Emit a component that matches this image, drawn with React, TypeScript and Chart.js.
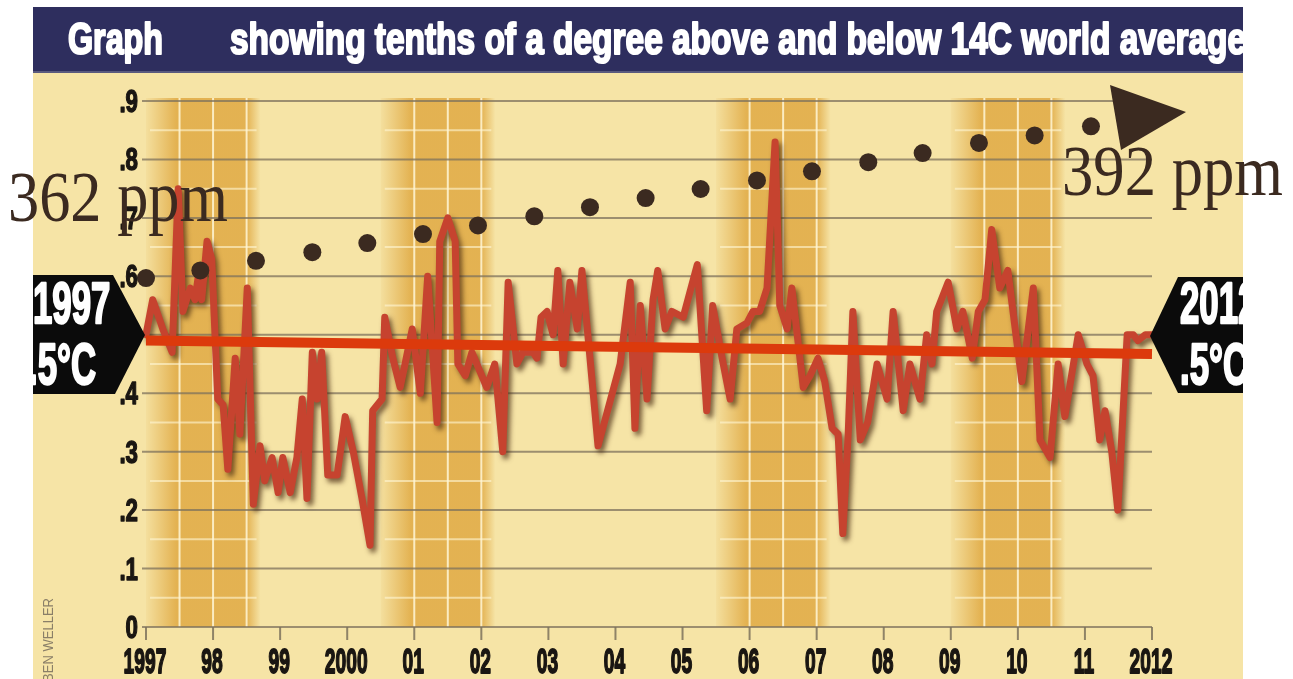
import React, { useEffect, useRef } from 'react';
import { Chart, registerables } from 'chart.js';

Chart.register(...registerables);

const W = 1293;
const H = 679;

// Monthly-ish temperature anomaly trace (tenths of a degree above 14C)
const tempYears = [
  1997.0, 1997.1, 1997.25, 1997.39, 1997.48, 1997.55, 1997.66, 1997.73, 1997.78, 1997.83, 1997.91, 1997.98,
  1998.07, 1998.15, 1998.22, 1998.33, 1998.4, 1998.51, 1998.6, 1998.7, 1998.77, 1998.88, 1998.97,
  1999.04, 1999.15, 1999.25, 1999.33, 1999.4, 1999.48, 1999.55, 1999.62, 1999.71, 1999.85, 1999.97,
  2000.09, 2000.22, 2000.34, 2000.38, 2000.52, 2000.56, 2000.68, 2000.79, 2000.97,
  2001.09, 2001.2, 2001.34, 2001.38, 2001.5, 2001.61, 2001.65, 2001.76, 2001.86,
  2002.08, 2002.2, 2002.32, 2002.4, 2002.53, 2002.62, 2002.77, 2002.83, 2002.89, 2002.98,
  2003.07, 2003.14, 2003.22, 2003.32, 2003.43, 2003.5, 2003.58, 2003.74,
  2004.07, 2004.22, 2004.29, 2004.37, 2004.47, 2004.56, 2004.63, 2004.74, 2004.84,
  2005.01, 2005.22, 2005.36, 2005.45, 2005.59, 2005.71, 2005.81, 2005.96,
  2006.05, 2006.15, 2006.26, 2006.38, 2006.45, 2006.56, 2006.63, 2006.72, 2006.8, 2006.9,
  2007.02, 2007.12, 2007.23, 2007.32, 2007.39, 2007.47, 2007.54, 2007.65, 2007.76, 2007.9,
  2008.05, 2008.14, 2008.29, 2008.39, 2008.54, 2008.64, 2008.72, 2008.79, 2008.96,
  2009.09, 2009.18, 2009.32, 2009.41, 2009.51, 2009.61, 2009.73, 2009.85,
  2010.06, 2010.23, 2010.33, 2010.48, 2010.6, 2010.7, 2010.9,
  2011.03, 2011.12, 2011.22, 2011.3, 2011.4, 2011.49, 2011.63, 2011.72, 2011.79, 2011.9, 2012.0,
];
const tempValues = [
  0.5, 0.56, 0.51, 0.47, 0.75, 0.54, 0.58, 0.56, 0.6, 0.56, 0.66, 0.63,
  0.39, 0.38, 0.27, 0.46, 0.33, 0.58, 0.21, 0.31, 0.25, 0.29, 0.23,
  0.29, 0.23, 0.29, 0.39, 0.22, 0.47, 0.39, 0.47, 0.26, 0.26, 0.36,
  0.3, 0.22, 0.14, 0.37, 0.39, 0.53, 0.46, 0.41, 0.51,
  0.4, 0.6, 0.35, 0.66, 0.7, 0.66, 0.45, 0.43, 0.47,
  0.41, 0.45, 0.3, 0.59, 0.45, 0.47, 0.47, 0.46, 0.53, 0.54,
  0.5, 0.61, 0.45, 0.59, 0.51, 0.61, 0.51, 0.31,
  0.45, 0.59, 0.34, 0.55, 0.39, 0.56, 0.61, 0.51, 0.54,
  0.53, 0.62, 0.37, 0.55, 0.46, 0.39, 0.51, 0.52,
  0.54, 0.54, 0.58, 0.83, 0.55, 0.51, 0.58, 0.49, 0.41, 0.43,
  0.46, 0.42, 0.34, 0.33, 0.16, 0.33, 0.54, 0.32, 0.35, 0.45,
  0.39, 0.54, 0.37, 0.45, 0.39, 0.5, 0.45, 0.54, 0.59,
  0.51, 0.54, 0.46, 0.54, 0.56, 0.68, 0.58, 0.61,
  0.42, 0.58, 0.32, 0.29, 0.45, 0.36, 0.5,
  0.45, 0.43, 0.32, 0.37, 0.3, 0.2, 0.5, 0.5, 0.49, 0.5, 0.5,
];

// Flat trend line (.5C in 1997 -> .5C in 2012)
const trendYears = [1997, 2012];
const trendValues = [0.49, 0.467];

// CO2 concentration dots (ppm)
const co2Years = [
  1997.0, 1997.81, 1998.64, 1999.48, 2000.3, 2001.13, 2001.95, 2002.79, 2003.62,
  2004.45, 2005.27, 2006.11, 2006.93, 2007.77, 2008.58, 2009.42, 2010.25, 2011.09,
];
const co2Ppm = [
  362.0, 363.5, 365.4, 367.1, 368.9, 370.7, 372.4, 374.2, 376.0,
  377.8, 379.6, 381.3, 383.1, 384.9, 386.7, 388.7, 390.2, 392.0,
];

// Shaded (El Nino) bands
const bandStarts = [1997.0, 2000.5, 2005.5, 2009.0];
const bandEnds = [1998.5, 2002.0, 2007.0, 2010.5];

const xTickValues = [1997, 1998, 1999, 2000, 2001, 2002, 2003, 2004, 2005, 2006, 2007, 2008, 2009, 2010, 2011, 2012];
const xTickLabels = ['1997', '98', '99', '2000', '01', '02', '03', '04', '05', '06', '07', '08', '09', '10', '11', '2012'];
const yTickValues = [0, 0.1, 0.2, 0.3, 0.4, 0.5, 0.6, 0.7, 0.8, 0.9];
const yTickLabels = ['0', '.1', '.2', '.3', '.4', '.5', '.6', '.7', '.8', '.9'];

const titleLead = 'Graph';
const titleText = 'showing tenths of a degree above and below 14C world average';
const startLabel = ['1997', '.5°C'];
const endLabel = ['2012', '.5°C'];
const ppmStartLabel = '362 ppm';
const ppmEndLabel = '392 ppm';
const creditText = 'BEN WELLER';

const BOLD = 'bold 35px "Liberation Sans", Arial, sans-serif';

function drawScaled(
  ctx: CanvasRenderingContext2D,
  text: string,
  x: number,
  y: number,
  sx: number,
  font: string,
  color: string,
  align: 'left' | 'center' | 'right' = 'left',
  strokeW = 0
) {
  ctx.save();
  ctx.font = font;
  ctx.textBaseline = 'alphabetic';
  ctx.textAlign = 'left';
  const w = ctx.measureText(text).width * sx;
  const left = align === 'center' ? x - w / 2 : align === 'right' ? x - w : x;
  ctx.translate(left, y);
  ctx.scale(sx, 1);
  ctx.fillStyle = color;
  ctx.fillText(text, 0, 0);
  if (strokeW) {
    ctx.strokeStyle = color;
    ctx.lineWidth = strokeW;
    ctx.lineJoin = 'round';
    ctx.strokeText(text, 0, 0);
  }
  ctx.restore();
}

function drawFit(
  ctx: CanvasRenderingContext2D,
  text: string,
  x: number,
  y: number,
  width: number,
  font: string,
  color: string,
  strokeW = 0
) {
  ctx.save();
  ctx.font = font;
  const w = ctx.measureText(text).width;
  ctx.restore();
  drawScaled(ctx, text, x, y, width / w, font, color, 'left', strokeW);
}

const decoPlugin = {
  id: 'deco',
  beforeDraw(chart: any) {
    const ctx: CanvasRenderingContext2D = chart.ctx;
    ctx.save();
    ctx.fillStyle = '#ffffff';
    ctx.fillRect(0, 0, W, H);
    ctx.fillStyle = '#f6e4a6';
    ctx.fillRect(33, 7, 1210, H - 7);
    ctx.fillStyle = '#2e2e5e';
    ctx.fillRect(33, 7, 1210, 65);
    ctx.fillStyle = '#5a5a7e';
    ctx.fillRect(33, 71, 1210, 2);
    ctx.restore();
  },
  beforeDatasetsDraw(chart: any) {
    const ctx: CanvasRenderingContext2D = chart.ctx;
    const xs = chart.scales.x;
    const ys = chart.scales.y;
    const area = chart.chartArea;
    const top = ys.getPixelForValue(0.9) - 3;
    const bottom = ys.getPixelForValue(0);
    ctx.save();
    // bands
    bandStarts.forEach((s, i) => {
      const e = bandEnds[i];
      const x0 = xs.getPixelForValue(s);
      const xFull = xs.getPixelForValue(s + 0.45);
      const xe = xs.getPixelForValue(e);
      const x1 = xe + 14;
      const g = ctx.createLinearGradient(x0, 0, x1, 0);
      const span = x1 - x0;
      g.addColorStop(0, 'rgba(222,164,58,0.08)');
      g.addColorStop((xFull - x0) / span, 'rgba(222,164,58,0.78)');
      g.addColorStop((xe - x0) / span, 'rgba(222,164,58,0.78)');
      g.addColorStop(1, 'rgba(222,164,58,0)');
      ctx.fillStyle = g;
      ctx.fillRect(x0, top, x1 - x0, bottom - top);
      // white inner grid
      ctx.strokeStyle = 'rgba(255,246,214,0.85)';
      ctx.lineWidth = 2;
      for (let v = s + 0.5; v <= e + 0.001; v += 0.5) {
        const px = xs.getPixelForValue(v);
        ctx.beginPath();
        ctx.moveTo(px, top);
        ctx.lineTo(px, bottom);
        ctx.stroke();
      }
      ctx.strokeStyle = 'rgba(255,246,214,0.6)';
      for (let k = 0; k < 9; k++) {
        const py = ys.getPixelForValue(k * 0.1 + 0.05);
        ctx.beginPath();
        ctx.moveTo(x0 + 4, py);
        ctx.lineTo(x1 - 4, py);
        ctx.stroke();
      }
    });
    // horizontal gridlines
    ctx.strokeStyle = 'rgba(125,114,92,0.75)';
    ctx.lineWidth = 2;
    yTickValues.forEach((v) => {
      const py = ys.getPixelForValue(v);
      ctx.beginPath();
      ctx.moveTo(area.left - 4, py);
      ctx.lineTo(area.right, py);
      ctx.stroke();
    });
    // x-axis ticks
    ctx.strokeStyle = 'rgba(125,114,92,0.85)';
    xTickValues.forEach((v) => {
      const px = xs.getPixelForValue(v);
      ctx.beginPath();
      ctx.moveTo(px, bottom);
      ctx.lineTo(px, bottom + 13);
      ctx.stroke();
    });
    ctx.restore();
  },
  beforeDatasetDraw(chart: any, args: any) {
    if (args.index === 2) {
      const ctx: CanvasRenderingContext2D = chart.ctx;
      ctx.save();
      ctx.shadowColor = 'rgba(70,40,15,0.7)';
      ctx.shadowBlur = 5;
      ctx.shadowOffsetX = 3;
      ctx.shadowOffsetY = 4;
    }
  },
  afterDatasetDraw(chart: any, args: any) {
    if (args.index === 2) {
      chart.ctx.restore();
    }
  },
  afterDraw(chart: any) {
    const ctx: CanvasRenderingContext2D = chart.ctx;
    const xs = chart.scales.x;
    const ys = chart.scales.y;

    // header text
    ctx.save();
    ctx.beginPath();
    ctx.rect(33, 7, 1210, 65);
    ctx.clip();
    drawFit(ctx, titleLead, 68, 54, 95, 'bold 44px "Liberation Sans", Arial, sans-serif', '#ffffff', 2.2);
    drawFit(ctx, titleText, 230, 54, 1016, 'bold 44px "Liberation Sans", Arial, sans-serif', '#ffffff', 2.2);
    ctx.restore();

    // y tick labels
    yTickValues.forEach((v, i) => {
      const py = ys.getPixelForValue(v);
      drawScaled(ctx, yTickLabels[i], 138, py + 11, 0.72, 'bold 31px "Liberation Sans", Arial, sans-serif', '#1a1612', 'right', 1.4);
    });
    // x tick labels
    xTickValues.forEach((v, i) => {
      const px = xs.getPixelForValue(v);
      drawScaled(ctx, xTickLabels[i], px - 1, 673, 0.55, BOLD, '#1a1612', 'center', 1.8);
    });

    // CO2 arrow
    ctx.save();
    ctx.fillStyle = '#3b2a20';
    ctx.beginPath();
    ctx.moveTo(1110, 85);
    ctx.lineTo(1186, 112);
    ctx.lineTo(1121, 150);
    ctx.closePath();
    ctx.fill();
    ctx.restore();

    // ppm labels
    const ppmFont = '71px "Liberation Serif", "DejaVu Serif", serif';
    drawFit(ctx, ppmStartLabel, 8, 221, 220, ppmFont, '#3b2a20');
    drawFit(ctx, ppmEndLabel, 1062, 195, 221, ppmFont, '#3b2a20');

    // left black tag
    ctx.save();
    ctx.fillStyle = '#0b0b0b';
    ctx.beginPath();
    ctx.moveTo(33, 275);
    ctx.lineTo(113, 275);
    ctx.lineTo(145, 335);
    ctx.lineTo(115, 394);
    ctx.lineTo(33, 394);
    ctx.closePath();
    ctx.fill();
    ctx.clip();
    const tagFont = 'bold 58px "Liberation Sans", Arial, sans-serif';
    drawScaled(ctx, startLabel[0], 33, 323, 0.6, tagFont, '#ffffff', 'left', 2.4);
    drawScaled(ctx, startLabel[1], 28, 384, 0.6, tagFont, '#ffffff', 'left', 2.4);
    ctx.restore();

    // right black tag
    ctx.save();
    ctx.fillStyle = '#0b0b0b';
    ctx.beginPath();
    ctx.moveTo(1243, 277);
    ctx.lineTo(1178, 277);
    ctx.lineTo(1150, 336);
    ctx.lineTo(1178, 393);
    ctx.lineTo(1243, 393);
    ctx.closePath();
    ctx.fill();
    ctx.clip();
    drawScaled(ctx, endLabel[0], 1180, 323, 0.6, tagFont, '#ffffff', 'left', 2.4);
    drawScaled(ctx, endLabel[1], 1180, 384, 0.6, tagFont, '#ffffff', 'left', 2.4);
    ctx.restore();

    // credit
    ctx.save();
    ctx.beginPath();
    ctx.rect(33, 560, 60, H - 560);
    ctx.clip();
    ctx.translate(53, 682);
    ctx.rotate(-Math.PI / 2);
    drawFit(ctx, creditText, 0, 0, 84, '14px "Liberation Sans", Arial, sans-serif', '#8a7f68');
    ctx.restore();
  },
};

export default function App() {
  const canvasRef = useRef<HTMLCanvasElement | null>(null);

  useEffect(() => {
    const canvas = canvasRef.current;
    if (!canvas) return;
    const chart = new Chart(canvas, {
      type: 'line',
      data: {
        datasets: [
          {
            label: 'CO2 (ppm)',
            data: co2Years.map((x, i) => ({ x, y: co2Ppm[i] })),
            yAxisID: 'y2',
            showLine: false,
            pointRadius: 9,
            pointBackgroundColor: '#3b2a20',
            pointBorderWidth: 0,
            borderColor: '#3b2a20',
            order: 0,
            clip: false,
          } as any,
          {
            label: 'Trend',
            data: trendYears.map((x, i) => ({ x, y: trendValues[i] })),
            yAxisID: 'y',
            borderColor: '#dc3a0c',
            borderWidth: 10,
            borderCapStyle: 'butt',
            pointRadius: 0,
            tension: 0,
            order: 1,
            clip: false,
          } as any,
          {
            label: 'Temperature',
            data: tempYears.map((x, i) => ({ x, y: tempValues[i] })),
            yAxisID: 'y',
            borderColor: '#c6432f',
            borderWidth: 7,
            borderJoinStyle: 'round',
            borderCapStyle: 'round',
            pointRadius: 0,
            tension: 0,
            order: 2,
            clip: false,
          } as any,
        ],
      },
      options: {
        responsive: false,
        animation: false,
        events: [],
        layout: { padding: { left: 146, right: 141, top: 101, bottom: 52 } },
        plugins: { legend: { display: false }, tooltip: { enabled: false } },
        scales: {
          x: { type: 'linear', min: 1997, max: 2012, display: false },
          y: { type: 'linear', min: 0, max: 0.9, display: false },
          y2: { type: 'linear', min: 293, max: 397, display: false },
        },
      } as any,
      plugins: [decoPlugin],
    });
    return () => chart.destroy();
  }, []);

  return (
    <div style={{ position: 'fixed', left: 0, top: 0, width: W, height: H, background: '#ffffff' }}>
      <canvas ref={canvasRef} width={W} height={H} style={{ width: W, height: H, display: 'block' }} />
    </div>
  );
}
